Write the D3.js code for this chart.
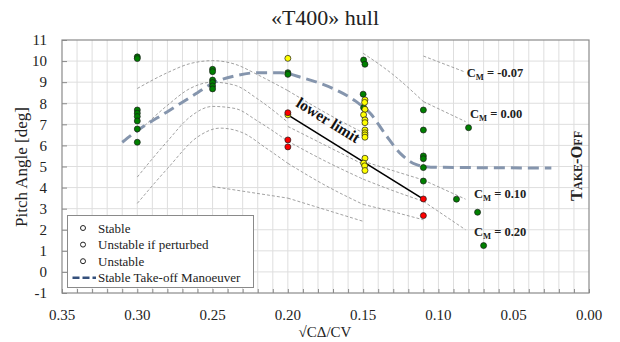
<!DOCTYPE html>
<html>
<head>
<meta charset="utf-8">
<script src="https://cdn.jsdelivr.net/npm/d3@7"></script>
<style>
  html, body { margin: 0; padding: 0; background: #fff; }
</style>
</head>
<body>
<svg id="chart" width="620" height="342" font-family="'Liberation Serif', 'DejaVu Serif', 'Times New Roman', serif"></svg>
<script>
// Axis ticks
const xTicks = [0.35, 0.30, 0.25, 0.20, 0.15, 0.10, 0.05, 0.00];
const yTicks = [-1, 0, 1, 2, 3, 4, 5, 6, 7, 8, 9, 10, 11];

// Test points: [sqrt(C_delta)/C_V, pitch angle]
const stablePoints = [
  [0.30, 10.20], [0.30, 10.12], [0.30, 7.68], [0.30, 7.53], [0.30, 7.37], [0.30, 7.16], [0.30, 6.78], [0.30, 6.15],
  [0.25, 9.61], [0.25, 9.50], [0.25, 9.10], [0.25, 8.98], [0.25, 8.82], [0.25, 8.68],
  [0.20, 9.45], [0.20, 9.37],
  [0.1497, 10.05], [0.1488, 9.85], [0.1500, 8.43], [0.1497, 7.79],
  [0.11, 7.68], [0.11, 6.73], [0.11, 5.50], [0.11, 5.37], [0.11, 4.95], [0.11, 4.31],
  [0.080, 6.84], [0.088, 3.45], [0.074, 2.83], [0.070, 1.25]
];
const perturbedPoints = [
  [0.20, 10.13], [0.20, 7.45],
  [0.1488, 8.16], [0.1490, 8.04], [0.1488, 7.71], [0.1497, 7.45], [0.1488, 7.21], [0.1488, 7.08],
  [0.1488, 6.73], [0.1488, 6.60], [0.1488, 6.50], [0.1488, 6.39],
  [0.1488, 5.39], [0.1497, 5.16], [0.1490, 5.03], [0.1488, 4.81]
];
const unstablePoints = [
  [0.20, 7.55], [0.20, 6.26], [0.20, 5.93],
  [0.11, 3.46], [0.11, 2.67]
];

// Stable take-off manoeuvre
const takeOffPath = [
  [0.310, 6.15], [0.300, 6.70], [0.280, 7.60], [0.260, 8.50], [0.250, 8.95], [0.235, 9.30],
  [0.220, 9.45], [0.205, 9.45], [0.190, 9.20], [0.170, 8.70], [0.155, 8.10], [0.145, 7.50],
  [0.135, 6.50], [0.125, 5.60], [0.115, 5.10], [0.105, 4.97], [0.080, 4.95], [0.025, 4.93]
];

// Lower limit of the stable region
const lowerLimit = [[0.20, 7.45], [0.11, 3.45]];

// Constant moment coefficient curves, piecewise
const cmCurves = [
  [[0.30, 8.70], [0.28, 9.45], [0.265, 9.88], [0.25, 10.02], [0.235, 9.85], [0.22, 9.35], [0.20, 8.60]],
  [[0.30, 6.60], [0.28, 7.90], [0.265, 8.70], [0.25, 9.00], [0.235, 8.85], [0.22, 8.20], [0.20, 7.10]],
  [[0.30, 4.50], [0.28, 6.20], [0.265, 7.35], [0.25, 7.85], [0.235, 7.75], [0.22, 7.15], [0.20, 6.20]],
  [[0.30, 3.25], [0.28, 4.90], [0.26, 6.40], [0.245, 6.82], [0.23, 6.60], [0.215, 5.90], [0.20, 5.15]],
  [[0.25, 4.05], [0.20, 3.50]],
  [[0.20, 8.60], [0.175, 7.55], [0.15, 6.60]],
  [[0.20, 6.90], [0.175, 6.00], [0.15, 5.10]],
  [[0.20, 6.20], [0.175, 5.25], [0.15, 4.40]],
  [[0.20, 5.15], [0.175, 4.10], [0.15, 3.20]],
  [[0.20, 3.50], [0.175, 2.95], [0.15, 2.40]],
  [[0.15, 10.37], [0.13, 9.35], [0.11, 8.08]],
  [[0.15, 5.25], [0.13, 4.80], [0.11, 4.36]],
  [[0.15, 4.40], [0.13, 3.85], [0.11, 3.35]],
  [[0.15, 3.20], [0.13, 2.85], [0.11, 2.47]],
  [[0.11, 10.24], [0.083, 9.50]],
  [[0.11, 8.08], [0.082, 7.13]],
  [[0.11, 4.36], [0.082, 3.45]],
  [[0.11, 3.35], [0.082, 2.00]]
];
const cmLabels = [
  { value: "-0.07", x: 0.0812, y: 9.26 },
  { value: "0.00", x: 0.0790, y: 7.29 },
  { value: "0.10", x: 0.0764, y: 3.50 },
  { value: "0.20", x: 0.0764, y: 1.71 }
];

const legendItems = ["Stable", "Unstable if perturbed", "Unstable", "Stable Take-off Manoeuver"];

const SERIF = "'Liberation Serif', 'DejaVu Serif', 'Times New Roman', serif";
const svg = d3.select("#chart");
const x = d3.scaleLinear().domain([0.35, 0]).range([62, 589]);
const y = d3.scaleLinear().domain([-1, 11]).range([293, 40]);

// Grid
const grid = svg.append("g");
grid.selectAll("line.v").data(d3.range(1, 35).map(i => i / 100))
  .join("line").attr("class", "v")
  .attr("x1", d => x(d)).attr("x2", d => x(d))
  .attr("y1", y(-1)).attr("y2", y(11))
  .attr("stroke", "#dedede").attr("stroke-width", 1);
grid.selectAll("line.h").data(yTicks.slice(1, -1))
  .join("line").attr("class", "h")
  .attr("x1", x(0.35)).attr("x2", x(0))
  .attr("y1", d => y(d)).attr("y2", d => y(d))
  .attr("stroke", "#dedede").attr("stroke-width", 1);

// Axes with inward ticks
const xAxis = svg.append("g").attr("transform", `translate(0,${y(-1)})`)
  .call(d3.axisBottom(x).tickValues(d3.range(0, 36).map(i => i / 100)).tickSize(-4).tickFormat(""));
xAxis.selectAll("line").attr("stroke", "#8a8a8a");
xAxis.select(".domain").remove();

const yAxis = svg.append("g").attr("transform", `translate(${x(0.35)},0)`)
  .call(d3.axisLeft(y).tickValues(yTicks).tickSize(-5).tickFormat(""));
yAxis.selectAll("line").attr("stroke", "#8a8a8a");
yAxis.select(".domain").remove();

// Text layer
const txt = svg.append("g").attr("font-family", SERIF).attr("fill", "#222");
txt.append("g").selectAll("text").data(xTicks).join("text")
  .attr("x", d => x(d)).attr("y", 320)
  .attr("text-anchor", "middle").attr("font-size", 15)
  .text(d => d.toFixed(2));
txt.append("g").selectAll("text").data(yTicks).join("text")
  .attr("x", 47).attr("y", d => y(d)).attr("dy", "0.35em")
  .attr("text-anchor", "end").attr("font-size", 15)
  .text(d => d);

// Plot frame
svg.append("rect")
  .attr("x", x(0.35)).attr("y", y(11))
  .attr("width", x(0) - x(0.35)).attr("height", y(-1) - y(11))
  .attr("fill", "none").attr("stroke", "#8a8a8a").attr("stroke-width", 1.2);

// Titles
txt.append("text").attr("x", 325).attr("y", 25).attr("text-anchor", "middle")
  .attr("font-size", 22).text("«T400» hull");
txt.append("text").attr("x", 325).attr("y", 337).attr("text-anchor", "middle")
  .attr("font-size", 15).text("√CΔ/CV");
txt.append("text").attr("transform", "translate(27,167) rotate(-90)")
  .attr("text-anchor", "middle").attr("font-size", 17).text("Pitch Angle [deg]");

// Constant-moment curves
const line = d3.line().x(d => x(d[0])).y(d => y(d[1])).curve(d3.curveMonotoneX);
svg.append("g").selectAll("path").data(cmCurves).join("path")
  .attr("d", line).attr("fill", "none")
  .attr("stroke", "#8a8a8a").attr("stroke-width", 0.8).attr("stroke-dasharray", "3,2");

// C_M labels
const cmText = svg.append("g").attr("font-family", SERIF).attr("fill", "#222")
  .selectAll("text").data(cmLabels).join("text")
  .attr("x", d => x(d.x)).attr("y", d => y(d.y))
  .attr("font-size", 12.5).attr("font-weight", "bold");
cmText.append("tspan").text("C");
cmText.append("tspan").attr("font-size", 8.5).attr("dy", 3).text("M");
cmText.append("tspan").attr("dy", -3).text(d => " = " + d.value);

// Stable take-off manoeuvre
svg.append("path").datum(takeOffPath)
  .attr("d", line).attr("fill", "none")
  .attr("stroke", "#8595ad").attr("stroke-width", 3).attr("stroke-dasharray", "11,6");

// Lower limit
svg.append("path").datum(lowerLimit)
  .attr("d", d3.line().x(d => x(d[0])).y(d => y(d[1])))
  .attr("stroke", "#000").attr("stroke-width", 1.6);
const p0 = [x(lowerLimit[0][0]), y(lowerLimit[0][1])];
const p1 = [x(lowerLimit[1][0]), y(lowerLimit[1][1])];
const ang = Math.atan2(p1[1] - p0[1], p1[0] - p0[0]) * 180 / Math.PI;
svg.append("text")
  .attr("transform", `translate(${p0[0] + 4},${p0[1] - 4}) rotate(${ang})`)
  .attr("dy", -6).attr("font-family", SERIF).attr("font-size", 15.5).attr("font-weight", "bold")
  .attr("fill", "#111").text("lower limit");

// Points
const pts = svg.append("g");
[[stablePoints, "#008000"], [perturbedPoints, "#ffff00"], [unstablePoints, "#ff0000"]].forEach(([data, col]) => {
  pts.selectAll(null).data(data).join("circle")
    .attr("cx", d => x(d[0])).attr("cy", d => y(d[1])).attr("r", 3)
    .attr("fill", col).attr("stroke", "#1a1a1a").attr("stroke-width", 0.7);
});

// Take-off label
svg.append("text").attr("transform", "translate(582,166) rotate(-90)")
  .attr("text-anchor", "middle").attr("font-family", SERIF).attr("font-size", 16.5)
  .attr("font-weight", "bold").attr("fill", "#222")
  .style("font-variant", "small-caps").text("Take-Off");

// Legend
const lg = svg.append("g");
lg.append("rect").attr("x", 67.5).attr("y", 215.5).attr("width", 186).attr("height", 72)
  .attr("fill", "#fff").attr("stroke", "#8a8a8a").attr("stroke-width", 1);
legendItems.forEach((t, i) => {
  const cy = 228 + i * 16.6;
  if (i < 3) {
    lg.append("circle").attr("cx", 83).attr("cy", cy).attr("r", 2.5)
      .attr("fill", "#fff").attr("stroke", "#222").attr("stroke-width", 1);
  } else {
    lg.append("line").attr("x1", 72.5).attr("x2", 96).attr("y1", cy).attr("y2", cy)
      .attr("stroke", "#34507c").attr("stroke-width", 2.5).attr("stroke-dasharray", "7,3");
  }
  lg.append("text").attr("x", 98).attr("y", cy).attr("dy", "0.35em")
    .attr("font-family", SERIF).attr("font-size", 13).attr("fill", "#222").text(t);
});
</script>
</body>
</html>
